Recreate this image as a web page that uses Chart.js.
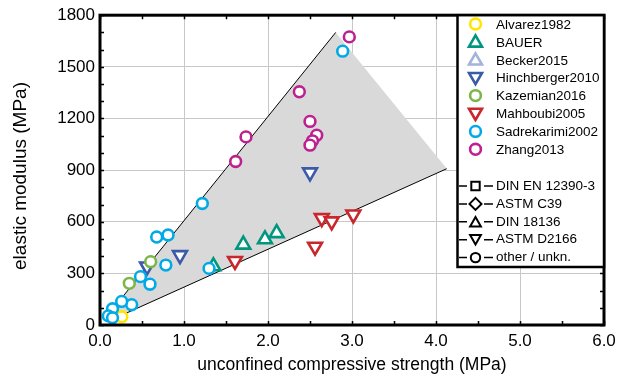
<!DOCTYPE html>
<html><head><meta charset="utf-8">
<script src="https://cdn.jsdelivr.net/npm/chart.js@4/dist/chart.umd.min.js"></script>
<style>html,body{margin:0;padding:0;background:#fff}#wrap{width:628px;height:378px;position:relative}</style>
</head><body><div id="wrap"><canvas id="c" width="628" height="378"></canvas></div>
<script>
// ---- data ----
const xTickLabels = ['0.0','1.0','2.0','3.0','4.0','5.0','6.0'];
const yTickLabels = ['0','300','600','900','1200','1500','1800'];
const xTitle = 'unconfined compressive strength (MPa)';
const yTitle = 'elastic modulus (MPa)';
const seriesNames = ['Alvarez1982','BAUER','Becker2015','Hinchberger2010','Kazemian2016','Mahboubi2005','Sadrekarimi2002','Zhang2013'];
const methodNames = ['DIN EN 12390-3','ASTM C39','DIN 18136','ASTM D2166','other / unkn.'];
const alvarez1982 = [[0.26,48]];
const bauer = [[1.35,341],[1.706,467],[1.964,498],[2.103,534]];
const becker2015 = [];
const hinchberger2010 = [[0.56,340],[0.952,406],[2.5,887]];
const kazemian2016 = [[0.349,242],[0.603,368]];
const mahboubi2005 = [[1.607,372],[2.56,455],[2.64,621],[2.758,602],[3.016,642]];
const sadrekarimi2002 = [[2.889,1591],[1.218,706],[1.298,329],[0.675,511],[0.81,523],[0.784,348],[0.595,237],[0.482,281],[0.377,118],[0.258,137],[0.149,94],[0.099,53],[0.149,42]];
const zhang2013 = [[2.373,1355],[2.5,1183],[2.58,1103],[2.53,1070],[2.5,1045],[1.738,1093],[1.615,950],[2.968,1674]];
const rangePolygon = [[0.1,61],[2.806,1700],[4.127,910],[0.1,22],[0.1,61]];
const upperLine = [[0.1,61],[2.806,1700]];
const lowerLine = [[0.1,22],[4.127,908]];

const colors = ['#ffe600','#00967f','#a3b3da','#3c5aaa','#7ab648','#c8282d','#00aae6','#bd2190'];
const styles = ['circle','triangle','triangle','triangle','circle','triangle','circle','circle'];
const rotations = [0,0,0,180,0,180,0,0];
const seriesData = [alvarez1982,bauer,becker2015,hinchberger2010,kazemian2016,mahboubi2005,sadrekarimi2002,zhang2013];

const toPts = a => a.map(p => ({x:p[0], y:p[1]}));
const FONT = '"Liberation Sans", Arial, Helvetica, sans-serif';

const datasets = seriesData.map((d,i) => ({
  label: seriesNames[i],
  data: toPts(d),
  showLine: false,
  pointStyle: styles[i],
  pointRotation: rotations[i],
  pointRadius: styles[i]==='circle' ? 5.4 : 8,
  pointHoverRadius: styles[i]==='circle' ? 5.4 : 8,
  borderColor: colors[i],
  backgroundColor: '#ffffff',
  pointBorderWidth: 2.6,
  borderWidth: 2.6,
  order: 10 - i
}));
datasets.push({label:'upper', data: toPts(upperLine), showLine:true, pointRadius:0, borderColor:'#000', borderWidth:1, fill:false, order:50});
datasets.push({label:'lower', data: toPts(lowerLine), showLine:true, pointRadius:0, borderColor:'#000', borderWidth:1, fill:false, order:51});
datasets.push({label:'range', data: toPts(rangePolygon), showLine:true, pointRadius:0, borderWidth:0, borderColor:'rgba(0,0,0,0)', backgroundColor:'#d9d9d9', fill:'shape', order:60});

function marker(ctx, style, rot, x, y, r) {
  ctx.beginPath();
  if (style === 'circle') { ctx.arc(x, y, r, 0, Math.PI*2); }
  else if (style === 'triangle') {
    let a = rot*Math.PI/180;
    ctx.moveTo(x + Math.sin(a)*r, y - Math.cos(a)*r);
    a += 2*Math.PI/3; ctx.lineTo(x + Math.sin(a)*r, y - Math.cos(a)*r);
    a += 2*Math.PI/3; ctx.lineTo(x + Math.sin(a)*r, y - Math.cos(a)*r);
    ctx.closePath();
  } else if (style === 'rect') { ctx.rect(x - r, y - r, 2*r, 2*r); }
  else if (style === 'diamond') { ctx.moveTo(x, y - r); ctx.lineTo(x + r, y); ctx.lineTo(x, y + r); ctx.lineTo(x - r, y); ctx.closePath(); }
  ctx.fill(); ctx.stroke();
}

const framePlugin = {
  id: 'frame',
  afterDraw(chart) {
    const ctx = chart.ctx, a = chart.chartArea, xs = chart.scales.x, ys = chart.scales.y;
    ctx.save();
    ctx.strokeStyle = '#000';
    ctx.lineWidth = 1.5;
    ctx.beginPath();
    for (let v = 0; v <= 6.0001; v += 0.5) {
      const px = Math.round(xs.getPixelForValue(v)) + 0.5;
      ctx.moveTo(px, a.top); ctx.lineTo(px, a.top + 4);
      ctx.moveTo(px, a.bottom); ctx.lineTo(px, a.bottom - 4);
    }
    for (let v = 0; v <= 1800; v += 100) {
      const py = Math.round(ys.getPixelForValue(v)) + 0.5;
      ctx.moveTo(a.left, py); ctx.lineTo(a.left + 4, py);
      ctx.moveTo(a.right, py); ctx.lineTo(a.right - 4, py);
    }
    ctx.stroke();
    ctx.lineWidth = 3;
    ctx.strokeRect(a.left, a.top, a.right - a.left, a.bottom - a.top);

    // y axis title
    ctx.save();
    ctx.fillStyle = '#000';
    ctx.font = '19px ' + FONT;
    ctx.textAlign = 'center';
    ctx.textBaseline = 'middle';
    ctx.translate(21, 176);
    ctx.rotate(-Math.PI/2);
    ctx.fillText(yTitle, 0, 0);
    ctx.restore();

    // legend
    const L = 457.5, T = a.top, R = a.right, B = 267;
    ctx.fillStyle = '#fff';
    ctx.fillRect(L, T, R - L, B - T);
    ctx.lineWidth = 2.5;
    ctx.strokeRect(L, T, R - L, B - T);
    ctx.font = '13.5px ' + FONT;
    ctx.textBaseline = 'middle';
    ctx.textAlign = 'left';
    const mx = 475.5, tx = 496;
    seriesNames.forEach((n, i) => {
      const y = 25 + 17.9*i;
      ctx.strokeStyle = colors[i]; ctx.fillStyle = '#fff'; ctx.lineWidth = 2.6;
      marker(ctx, styles[i], rotations[i], mx, styles[i]==='circle' ? y - 1 : (rotations[i] ? y - 2 : y), styles[i]==='circle' ? 5.4 : 7.5);
      ctx.fillStyle = '#000';
      ctx.fillText(n, tx, y);
    });
    const mStyles = ['rect','diamond','triangle','triangle','circle'];
    const mRots = [0,0,0,180,0];
    const mR = [4.2,6,6.2,6.2,4.7];
    methodNames.forEach((n, i) => {
      const y = 186 + 17.9*i;
      ctx.strokeStyle = '#000'; ctx.lineWidth = 1.5;
      ctx.beginPath();
      ctx.moveTo(459, y); ctx.lineTo(467, y);
      ctx.moveTo(484, y); ctx.lineTo(493, y);
      ctx.stroke();
      ctx.fillStyle = '#fff'; ctx.lineWidth = 2;
      let yy = y;
      if (mStyles[i]==='triangle') yy = mRots[i] ? y - 1.5 : y + 1.5;
      marker(ctx, mStyles[i], mRots[i], mx, yy, mR[i]);
      ctx.fillStyle = '#000';
      ctx.fillText(n, tx, y);
    });
    ctx.restore();
  }
};

new Chart(document.getElementById('c'), {
  type: 'scatter',
  data: { datasets },
  plugins: [framePlugin],
  options: {
    responsive: false,
    animation: false,
    devicePixelRatio: 1,
    layout: { padding: { left: 0, right: 24, top: 15, bottom: 0 } },
    plugins: { legend: { display: false }, tooltip: { enabled: false } },
    elements: { line: { tension: 0 } },
    scales: {
      x: {
        type: 'linear', min: 0, max: 6,
        afterFit(s) { s.height = 53; },
        ticks: { stepSize: 0.5, autoSkip: false, maxRotation: 0, padding: 6, color: '#000',
          font: { size: 17, family: FONT },
          callback: v => { const i = Math.round(v); return Math.abs(v - i) < 1e-6 ? xTickLabels[i] : ''; } },
        grid: { drawTicks: false, lineWidth: 1, color: c => (Math.abs(c.tick.value - Math.round(c.tick.value)) < 1e-6) ? '#c8c8c8' : 'rgba(0,0,0,0)' },
        border: { display: false },
        title: { display: true, text: xTitle, color: '#000', font: { size: 17.5, family: FONT }, padding: { top: 0, bottom: 2 } }
      },
      y: {
        type: 'linear', min: 0, max: 1800,
        afterFit(s) { s.width = 100; },
        ticks: { stepSize: 100, autoSkip: false, padding: 5, color: '#000',
          font: { size: 17, family: FONT },
          callback: v => (v % 300 === 0) ? yTickLabels[v/300] : '' },
        grid: { drawTicks: false, lineWidth: 1, color: c => (c.tick.value % 300 === 0) ? '#c8c8c8' : 'rgba(0,0,0,0)' },
        border: { display: false },
        title: { display: false }
      }
    }
  }
});
</script>
</body></html>
